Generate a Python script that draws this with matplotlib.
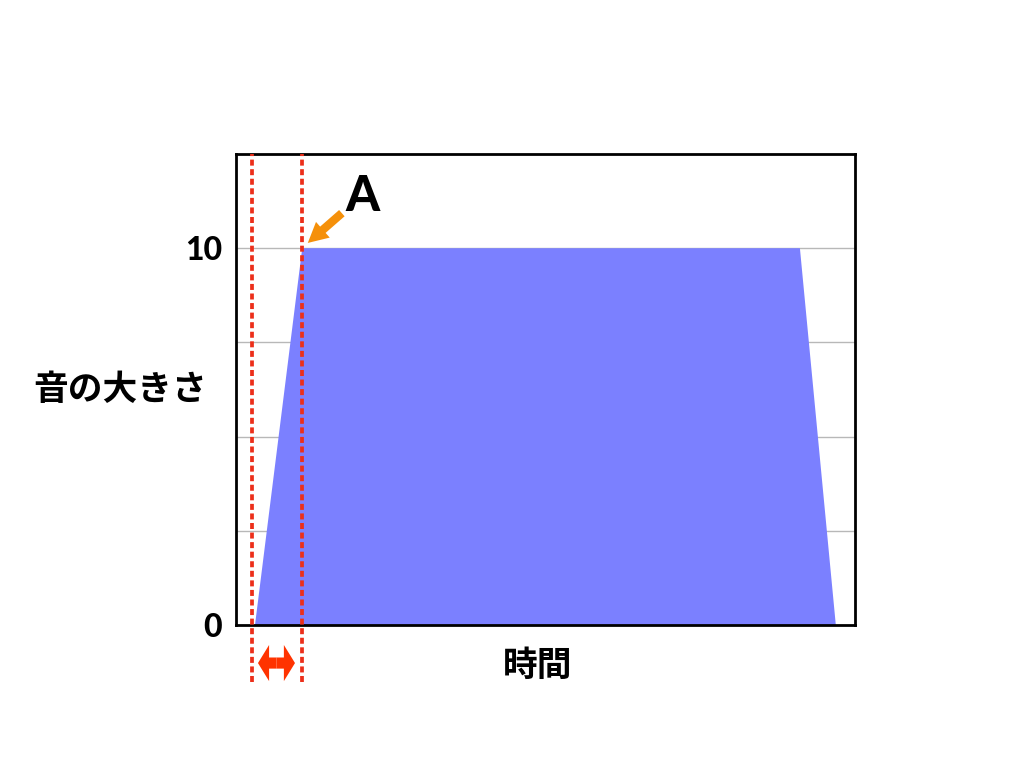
import matplotlib
matplotlib.use("Agg")
import matplotlib.pyplot as plt

plt.rcParams['font.family'] = ['Noto Sans CJK JP', 'DejaVu Sans']

# data
time = [3.07, 10.7, 91.1, 96.9]
volume = [0, 10, 10, 0]
marker_lines = [2.6, 10.6]
ytick_vals = [0, 10]
ytick_labels = ["0", "10"]
grid_vals = [2.5, 5, 7.5, 10]

fig = plt.figure(figsize=(10.24, 7.68), dpi=100)
ax = fig.add_axes([236/1024, 1-625/768, 619/1024, 471/768])
ax.set_xlim(0, 100)
ax.set_ylim(0, 12.5)

for g in grid_vals:
    ax.axhline(g, color='#b8b8b8', lw=1, zorder=1)

ax.fill(time, volume, color='#7b80ff', lw=0, zorder=2)

for s in ax.spines.values():
    s.set_linewidth(2)
    s.set_color('black')
    s.set_zorder(5)

ax.set_xticks([])
ax.set_yticks(ytick_vals)
ax.set_yticklabels(ytick_labels, fontsize=23, fontweight='black',
                   family=['Lato', 'DejaVu Sans'])
ax.tick_params(axis='y', length=0, pad=10)

for xv in marker_lines:
    ax.axvline(xv, ymin=-0.121, ymax=1, clip_on=False, color='#ec2f1a',
               lw=2.7, linestyle=(0, (1.6, 0.95)), zorder=6)

ax.set_ylabel("音の大きさ", rotation=0, fontsize=25, fontweight='bold',
              ha='center', va='center')
ax.yaxis.set_label_coords(-0.187, 0.499)
ax.set_xlabel("時間", fontsize=25, fontweight='bold', ha='center', va='center')
ax.xaxis.set_label_coords(0.488, -0.085)

# double arrow between marker lines (two outward arrows from centre)
mid = (marker_lines[0] + marker_lines[1]) / 2 - 0.05
for end in (marker_lines[0] + 0.95, marker_lines[1] - 1.07):
    ax.annotate("", xy=(end, -1.01), xytext=(mid, -1.01), annotation_clip=False,
                arrowprops=dict(arrowstyle='simple,head_length=0.8,head_width=2.6,tail_width=0.8',
                                color='#ff3300', lw=0, shrinkA=0, shrinkB=0,
                                mutation_scale=10))

# label A with orange arrow
ax.text(20.4, 11.36, "A", fontsize=35, fontweight='black', ha='center', va='center',
        family=['Lato', 'DejaVu Sans'])
ax.annotate("", xy=(11.6, 10.14), xytext=(17.1, 10.93),
            annotation_clip=False,
            arrowprops=dict(arrowstyle='simple,head_length=1.44,head_width=1.5,tail_width=0.6',
                            color='#f5900a', lw=0, shrinkA=0, shrinkB=0,
                            mutation_scale=10))

fig.savefig("out.png", dpi=100)
